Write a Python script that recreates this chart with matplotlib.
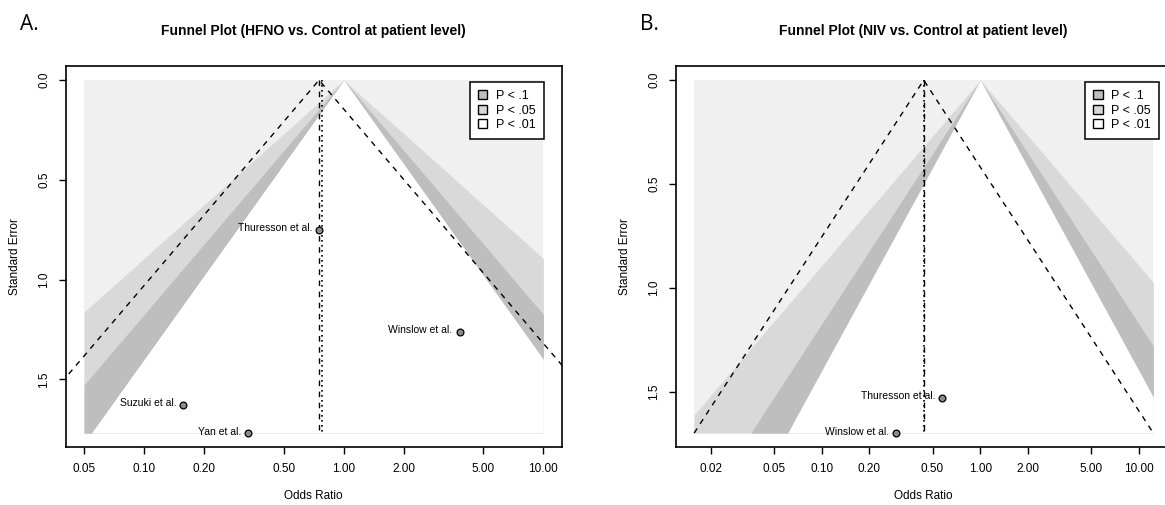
import numpy as np
import matplotlib.pyplot as plt
from matplotlib.patches import Patch

plt.rcParams["font.family"] = ["Liberation Sans", "DejaVu Sans"]

# Panel A: HFNO vs. control
a_studies = ["Thuresson et al.", "Winslow et al.", "Suzuki et al.", "Yan et al."]
a_or = [0.752, 3.80, 0.157, 0.332]
a_se = [0.75, 1.262, 1.627, 1.77]
a_est = 0.752
a_est2 = 0.78
a_ticks = [0.05, 0.1, 0.2, 0.5, 1, 2, 5, 10]
a_range = [0.05, 10]

# Panel B: NIV vs. control
b_studies = ["Thuresson et al.", "Winslow et al."]
b_or = [0.576, 0.296]
b_se = [1.53, 1.70]
b_est = 0.44
b_ticks = [0.02, 0.05, 0.1, 0.2, 0.5, 1, 2, 5, 10]

# contour levels (z for p = .1, .05, .01) and their shades
z_levels = [2.576, 1.96, 1.645]
shades = ["#d9d9d9", "#bebebe", "white"]
back = "#f0f0f0"
legend_cols = ["#bebebe", "#d9d9d9", "white"]
legend_labels = ["P < .1", "P < .05", "P < .01"]


def funnel(ax, studies, ors, ses, est, ticks, title, xrange=None, est2=None, leg_x=0.964):
    se_max = max(ses)
    le = np.log(est)
    if xrange is None:
        xrange = [np.exp(le - 1.96 * se_max), np.exp(le + 1.96 * se_max)]
    x0, x1 = xrange

    ax.fill_betweenx([0, se_max], x0, x1, color=back, lw=0, zorder=1)
    se = np.linspace(0, se_max, 600)
    for z, col in zip(z_levels, shades):
        xl = np.clip(np.exp(-z * se), x0, x1)
        xr = np.clip(np.exp(z * se), x0, x1)
        ax.fill_betweenx(se, xl, xr, color=col, lw=0, zorder=2)

    # pseudo confidence region around the estimate
    ax.plot([np.exp(le - 1.96 * se_max), est, np.exp(le + 1.96 * se_max)],
            [se_max, 0, se_max], color="black", ls=(0, (4, 4)), lw=1, zorder=3)
    ax.plot([est, est], [0, se_max], color="black", ls=(0, (4, 4)), lw=1, zorder=3)
    if est2 is not None:
        ax.plot([est2, est2], [0, se_max], color="black", ls=(0, (1, 2)), lw=1.2, zorder=3)
    else:
        ax.plot([est, est], [0, se_max], color="black", ls=(0, (1, 2)), lw=1.2, zorder=3)

    ax.scatter(ors, ses, s=24, c="#8c8c8c", edgecolors="black", linewidths=0.9, zorder=5)
    for name, x, y in zip(studies, ors, ses):
        ax.annotate(name, (x, y), xytext=(-5, 1), textcoords="offset points",
                    ha="right", va="center", fontsize=7.5, zorder=6)

    ax.set_xscale("log")
    lo, hi = np.log(x0), np.log(x1)
    pad = 0.04 * (hi - lo)
    ax.set_xlim(np.exp(lo - pad), np.exp(hi + pad))
    ax.set_ylim(se_max * 1.04, -0.04 * se_max)
    ax.set_xticks(ticks)
    ax.set_xticklabels([f"{t:.2f}" for t in ticks])
    ax.minorticks_off()
    ax.set_yticks([0, 0.5, 1.0, 1.5])
    ax.set_yticklabels(["0.0", "0.5", "1.0", "1.5"], rotation=90, va="center")
    ax.tick_params(direction="out", length=5, width=1, labelsize=8.5, pad=6)
    for s in ax.spines.values():
        s.set_linewidth(1.2)

    ax.set_title(title, fontsize=10, fontweight="bold", pad=22)
    ax.set_xlabel("Odds Ratio", fontsize=8.5)
    ax.set_ylabel("Standard Error", fontsize=8.5)
    ax.xaxis.set_label_coords(0.5, -0.112)
    ax.yaxis.set_label_coords(-0.09, 0.5)

    handles = [Patch(facecolor=c, edgecolor="black", label=l) for c, l in zip(legend_cols, legend_labels)]
    leg = ax.legend(handles=handles, loc="upper right", bbox_to_anchor=(leg_x, 0.958),
                    fontsize=9, fancybox=False, framealpha=1, edgecolor="black",
                    handlelength=0.75, handleheight=0.75, handletextpad=0.7,
                    labelspacing=0.2, borderpad=0.65, borderaxespad=0)
    leg.get_frame().set_linewidth(1.1)
    leg.set_zorder(10)


fig = plt.figure(figsize=(11.65, 5.05), dpi=100)
ax_a = fig.add_axes([0.0564, 0.1143, 0.4258, 0.755])
ax_b = fig.add_axes([0.58, 0.1143, 0.4258, 0.755])

funnel(ax_a, a_studies, a_or, a_se, a_est, a_ticks,
       "Funnel Plot (HFNO vs. Control at patient level)", xrange=a_range, est2=a_est2)
funnel(ax_b, b_studies, b_or, b_se, b_est, b_ticks,
       "Funnel Plot (NIV vs. Control at patient level)", leg_x=0.975)

fig.text(20 / 1165, 1 - 25 / 505, "A.", fontsize=15, family=["Open Sans", "DejaVu Sans"], va="center")
fig.text(640 / 1165, 1 - 25 / 505, "B.", fontsize=15, family=["Open Sans", "DejaVu Sans"], va="center")

fig.savefig("out.png", dpi=100)
